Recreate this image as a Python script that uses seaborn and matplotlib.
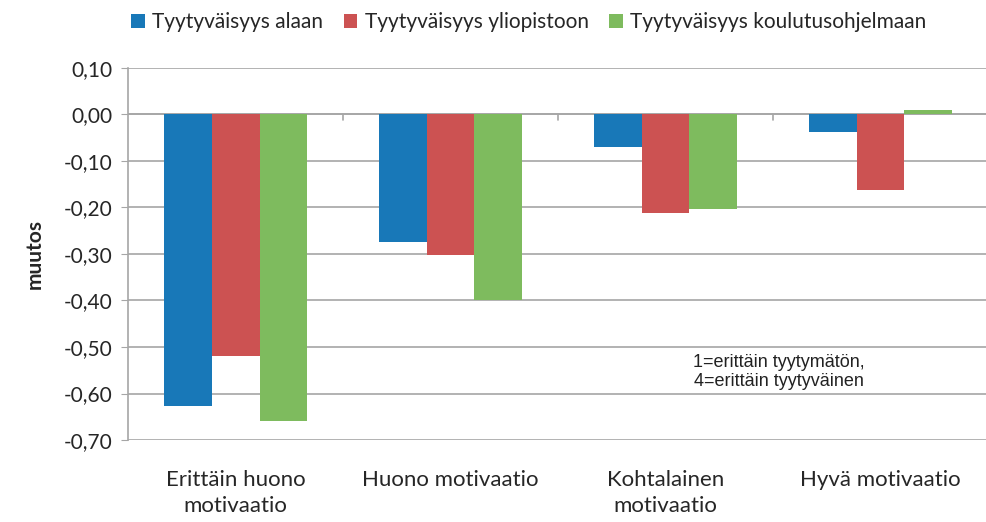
import pandas as pd
import matplotlib.pyplot as plt
import seaborn as sns
import numpy as np
from matplotlib.ticker import FuncFormatter

categories = ['Erittäin huono\nmotivaatio', 'Huono motivaatio', 'Kohtalainen\nmotivaatio', 'Hyvä motivaatio']
series = ['Tyytyväisyys alaan', 'Tyytyväisyys yliopistoon', 'Tyytyväisyys koulutusohjelmaan']
alaan = [-0.627, -0.274, -0.070, -0.038]
yliopistoon = [-0.520, -0.302, -0.212, -0.162]
koulutusohjelmaan = [-0.660, -0.400, -0.203, 0.009]
colors = ['#1878b8', '#cc5252', '#7ebb5e']

df = pd.DataFrame({
    'kategoria': categories * 3,
    'sarja': [series[0]] * 4 + [series[1]] * 4 + [series[2]] * 4,
    'muutos': alaan + yliopistoon + koulutusohjelmaan,
})

sns.set_style('white')
plt.rcParams['font.family'] = ['Lato', 'DejaVu Sans']

fig = plt.figure(figsize=(9.86, 5.22), dpi=100)
ax = fig.add_axes([0.13, 0.157, 0.872, 0.713])

sns.barplot(data=df, x='kategoria', y='muutos', hue='sarja', palette=colors,
            width=0.667, saturation=1, linewidth=0, ax=ax, zorder=3)

ax.set_ylim(-0.70, 0.10)
ax.set_xlim(-0.5, 3.5)
ax.set_yticks(np.arange(-0.70, 0.101, 0.10))
ax.yaxis.set_major_formatter(FuncFormatter(lambda v, p: f'{v:.2f}'.replace('.', ',').replace('-0,00', '0,00')))
ax.grid(axis='y', color='#a6a6a6', linewidth=1.2, zorder=0)
for s in ['top', 'right', 'bottom']:
    ax.spines[s].set_visible(False)
ax.spines['left'].set_color('#a6a6a6')
ax.spines['left'].set_linewidth(1.2)
ax.tick_params(axis='y', left=True, length=5, color='#a6a6a6', labelsize=15, labelcolor='#262626', pad=6)
ax.tick_params(axis='x', bottom=False, labelsize=16, labelcolor='#262626', pad=18)
for lbl in ax.get_xticklabels():
    lbl.set_linespacing(1.35)
ax.axhline(0, color='#a6a6a6', linewidth=1.2, zorder=2)
for xb in [0.5, 1.5, 2.5]:
    ax.plot([xb, xb], [0, -0.012], color='#a6a6a6', linewidth=1.2, zorder=2)

ax.set_xlabel('')
ax.set_ylabel('muutos', fontsize=15, fontweight='bold', labelpad=14)

ax.text(0.757, 0.183, '1=erittäin tyytymätön,\n4=erittäin tyytyväinen', transform=ax.transAxes,
        ha='center', va='center', fontsize=13, family='Liberation Sans', color='#222222', linespacing=1.1)

handles, labels = ax.get_legend_handles_labels()
ax.legend_.remove()
fig.legend(handles, labels, loc='upper left', bbox_to_anchor=(0.114, 1.012), ncol=3, frameon=False,
           fontsize=15, handlelength=0.65, handleheight=0.65, handletextpad=0.35, columnspacing=1.0)

plt.savefig('out.png', dpi=100)
